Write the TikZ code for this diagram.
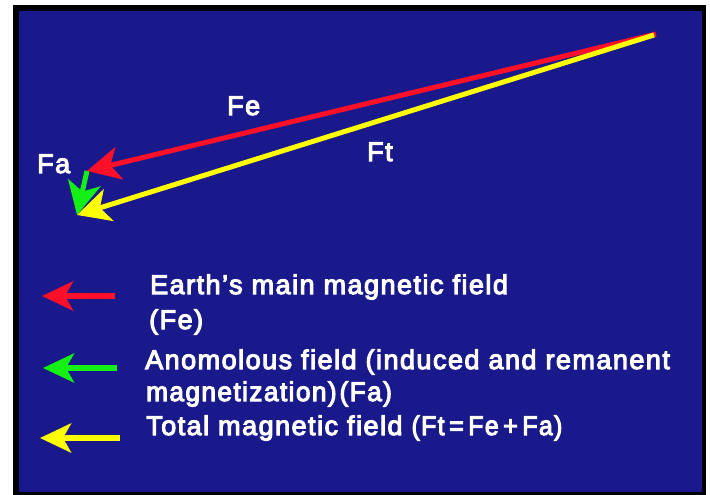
\documentclass[tikz,border=0pt]{standalone}
\usepackage{fontspec}
\usepackage{graphicx}
\setmainfont{Liberation Sans}[FakeBold=4,LetterSpace=5.5]
\usetikzlibrary{arrows.meta}
\definecolor{bgblue}{RGB}{25,25,140}
\definecolor{fered}{RGB}{255,15,40}
\definecolor{fagreen}{RGB}{20,240,20}
\definecolor{ftyellow}{RGB}{255,255,0}
\tikzset{
  vec/.style={line width=5pt,-{Stealth[length=33pt,width=33pt,inset=9pt]}},
  legvec/.style={line width=6pt,-{Stealth[length=31pt,width=29pt,inset=8pt]}},
  lbl/.style={text=white,inner sep=0pt,anchor=base west,font=\fontsize{27}{34}\selectfont},
}
\begin{document}
\begin{tikzpicture}[x=1pt,y=-1pt]
  \useasboundingbox (0,0) rectangle (710,495);
  \fill[white] (0,0) rectangle (710,495);
  \fill[black] (13,5) rectangle (706,495);
  \fill[bgblue] (19,11) rectangle (702,492);
  % vector diagram
  \coordinate (O) at (656,34);
  \coordinate (Oy) at (654,35);
  \coordinate (E) at (87,171);
  \coordinate (T) at (77,215);
  \draw[vec,fered] (O) -- (E);
  \draw[vec,fagreen] (E) -- (T);
  \draw[vec,ftyellow] (Oy) -- (T);
  \node[lbl] (fe) at (227,115) {Fe};
  \node[lbl] (ft) at (367,161) {Ft};
  \node[lbl] (fa) at (37,173) {Fa};
  % legend
  \coordinate (r1) at (115,296); \coordinate (r0) at (42,296);
  \coordinate (g1) at (117,368); \coordinate (g0) at (43,368);
  \coordinate (y1) at (120,438); \coordinate (y0) at (40,438);
  \draw[legvec,fered] (r1) -- (r0);
  \draw[legvec,fagreen] (g1) -- (g0);
  \draw[legvec,ftyellow] (y1) -- (y0);
  \node[lbl] (l1) at (150,294) {Earth’s main magnetic field};
  \node[lbl] (l2) at (149,329) {(Fe)};
  \node[lbl] (l3) at (145,369) {Anomolous field (induced and remanent};
  \node[lbl] (l4) at (146,401) {\scalebox{0.97}[1]{magnetization)\hspace{3pt}(Fa)}};
  \node[lbl] (l5) at (146,435) {Total magnetic field \scalebox{0.92}[1]{(Ft\hspace{5pt}=\hspace{5pt}Fe\hspace{5pt}+\hspace{5pt}Fa)}};
\end{tikzpicture}
\end{document}
